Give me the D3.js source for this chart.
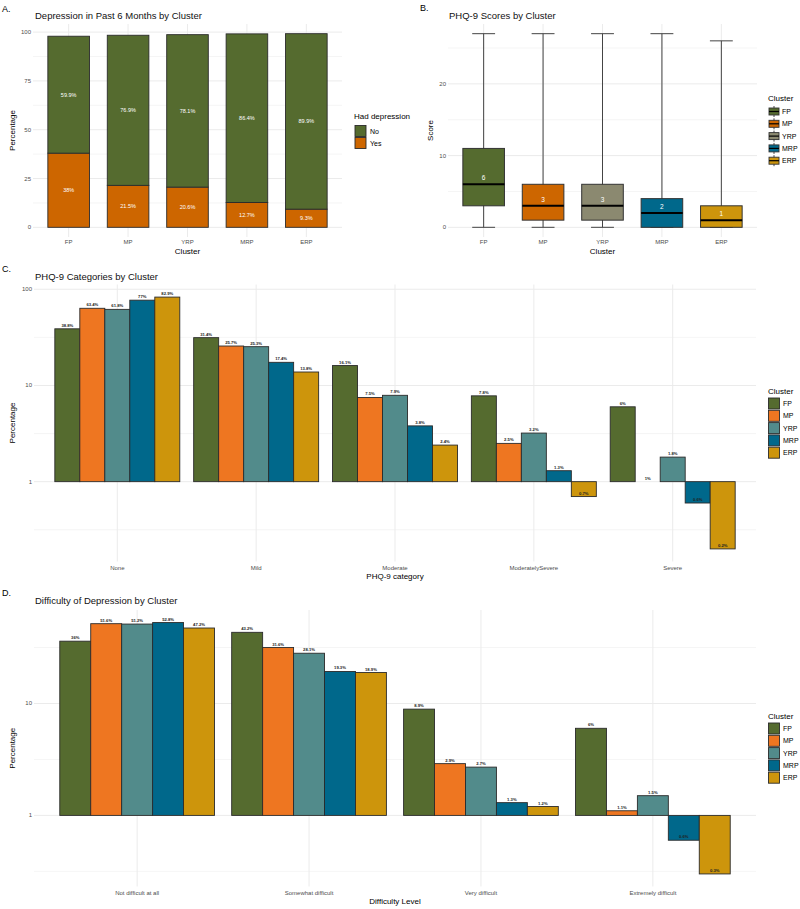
<!DOCTYPE html>
<html>
<head>
<meta charset="utf-8">
<script src="https://cdn.jsdelivr.net/npm/d3@7"></script>
<style>
  body { margin: 0; background: #fff; }
  svg { font-family: "Liberation Sans", Arial, sans-serif; }
</style>
</head>
<body>
<svg id="chart" width="800" height="909"></svg>
<script>
// ---- data ----
const clusters = ["FP", "MP", "YRP", "MRP", "ERP"];

// A. depression in past 6 months (%)
const depNo  = [59.9, 76.9, 78.1, 86.4, 89.9];
const depYes = [38, 21.5, 20.6, 12.7, 9.3];

// B. PHQ-9 score box stats
const boxMin = [0, 0, 0, 0, 0];
const boxQ1  = [3, 1, 1, 0, 0];
const boxMed = [6, 3, 3, 2, 1];
const boxQ3  = [11, 6, 6, 4, 3];
const boxMax = [27, 27, 27, 27, 26];

// C. PHQ-9 categories (%)
const phqCats = ["None", "Mild", "Moderate", "ModeratelySevere", "Severe"];
const phqFP  = [38.8, 31.4, 16.1, 7.8, 6];
const phqMP  = [63.4, 25.7, 7.5, 2.5, 1];
const phqYRP = [61.8, 25.3, 7.9, 3.2, 1.8];
const phqMRP = [77, 17.4, 3.8, 1.3, 0.6];
const phqERP = [82.9, 13.8, 2.4, 0.7, 0.2];

// D. difficulty of depression (%)
const diffCats = ["Not difficult at all", "Somewhat difficult", "Very difficult", "Extremely difficult"];
const diffFP  = [36, 43.2, 8.9, 6];
const diffMP  = [51.6, 31.6, 2.9, 1.1];
const diffYRP = [51.2, 28.1, 2.7, 1.5];
const diffMRP = [52.8, 19.3, 1.3, 0.6];
const diffERP = [47.2, 18.9, 1.2, 0.3];

const svg = d3.select("#chart");
const gridCol = "#ebebeb";
const tickCol = "#4d4d4d";
const outline = "#2b2b2b";

const colA = { No: "#556B2F", Yes: "#CD6600" };
const colB = ["#556B2F", "#CD6600", "#8B8970", "#00688B", "#CD950C"];
const colC = ["#556B2F", "#EE7621", "#528B8B", "#00688B", "#CD950C"];

function tag(x, y, t) {
  svg.append("text").attr("x", x).attr("y", y).attr("font-size", 9).text(t);
}
function title(x, y, t) {
  svg.append("text").attr("x", x).attr("y", y).attr("font-size", 9.5).attr("fill", "#111").text(t);
}
function axisTitleX(cx, y, t) {
  svg.append("text").attr("x", cx).attr("y", y).attr("text-anchor", "middle")
    .attr("font-size", 8).text(t);
}
function axisTitleY(x, cy, t) {
  svg.append("text").attr("transform", "translate(" + x + "," + cy + ") rotate(-90)")
    .attr("text-anchor", "middle").attr("font-size", 8).text(t);
}

// horizontal + vertical grids and y tick labels
function grid(g, x0, x1, y, major, minor, xs, yTop, yBot, fmt) {
  minor.forEach(v => g.append("line").attr("x1", x0).attr("x2", x1)
    .attr("y1", y(v)).attr("y2", y(v)).attr("stroke", gridCol).attr("stroke-width", 0.5));
  major.forEach(v => g.append("line").attr("x1", x0).attr("x2", x1)
    .attr("y1", y(v)).attr("y2", y(v)).attr("stroke", gridCol).attr("stroke-width", 1));
  xs.forEach(v => g.append("line").attr("x1", v).attr("x2", v)
    .attr("y1", yTop).attr("y2", yBot).attr("stroke", gridCol).attr("stroke-width", 1));
  major.forEach(v => g.append("text").attr("x", x0 - 2).attr("y", y(v) + 2)
    .attr("text-anchor", "end").attr("font-size", 6).attr("fill", tickCol).text(fmt(v)));
}

// ================= A =================
(function () {
  const x0 = 33, x1 = 342, yT = 24, yB = 237;
  const x = d3.scaleBand().domain(clusters).range([x0, x1]).paddingInner(0.3).paddingOuter(0.25);
  const y = d3.scaleLinear().domain([-4.96, 104.16]).range([yB, yT]);
  const g = svg.append("g");
  const centers = clusters.map(c => x(c) + x.bandwidth() / 2);
  grid(g, x0, x1, y, [0, 25, 50, 75, 100], [12.5, 37.5, 62.5, 87.5], centers, yT, yB, d => d);

  clusters.forEach((c, i) => {
    const segs = [
      { k: "Yes", lo: 0, hi: depYes[i], v: depYes[i] },
      { k: "No", lo: depYes[i], hi: depYes[i] + depNo[i], v: depNo[i] }
    ];
    segs.forEach(s => {
      g.append("rect").attr("x", x(c)).attr("width", x.bandwidth())
        .attr("y", y(s.hi)).attr("height", y(s.lo) - y(s.hi))
        .attr("fill", colA[s.k]).attr("stroke", outline).attr("stroke-width", 0.9);
      g.append("text").attr("x", x(c) + x.bandwidth() / 2).attr("y", y((s.lo + s.hi) / 2) + 2)
        .attr("text-anchor", "middle").attr("font-size", 5.5).attr("fill", "#fff").text(s.v + "%");
    });
    g.append("text").attr("x", centers[i]).attr("y", 244).attr("text-anchor", "middle")
      .attr("font-size", 6).attr("fill", tickCol).text(c);
  });

  tag(2, 12, "A.");
  title(35, 19, "Depression in Past 6 Months by Cluster");
  axisTitleX((x0 + x1) / 2, 254, "Cluster");
  axisTitleY(15, (yT + yB) / 2, "Percentage");

  // legend
  svg.append("text").attr("x", 354).attr("y", 119).attr("font-size", 8).text("Had depression");
  ["No", "Yes"].forEach((k, i) => {
    svg.append("rect").attr("x", 355).attr("y", 125.5 + i * 12).attr("width", 11).attr("height", 11)
      .attr("fill", colA[k]).attr("stroke", outline).attr("stroke-width", 0.9);
    svg.append("text").attr("x", 370).attr("y", 133.5 + i * 12).attr("font-size", 7).text(k);
  });
})();

// ================= B =================
(function () {
  const x0 = 448, x1 = 757, yT = 24, yB = 237;
  const x = d3.scaleBand().domain(clusters).range([x0, x1]).paddingInner(0.3).paddingOuter(0.25);
  const y = d3.scaleLinear().domain([-1.35, 28.35]).range([yB, yT]);
  const g = svg.append("g");
  const centers = clusters.map(c => x(c) + x.bandwidth() / 2);
  grid(g, x0, x1, y, [0, 10, 20], [5, 15, 25], centers, yT, yB, d => d);

  const bw = x.bandwidth();
  clusters.forEach((c, i) => {
    const cx = centers[i];
    const capW = bw * 0.55;
    g.append("line").attr("x1", cx).attr("x2", cx).attr("y1", y(boxMin[i])).attr("y2", y(boxMax[i]))
      .attr("stroke", "#444").attr("stroke-width", 1);
    [boxMin[i], boxMax[i]].forEach(v => g.append("line").attr("x1", cx - capW / 2).attr("x2", cx + capW / 2)
      .attr("y1", y(v)).attr("y2", y(v)).attr("stroke", "#444").attr("stroke-width", 1));
    g.append("rect").attr("x", x(c)).attr("width", bw).attr("y", y(boxQ3[i]))
      .attr("height", y(boxQ1[i]) - y(boxQ3[i])).attr("fill", colB[i])
      .attr("stroke", "#333").attr("stroke-width", 1);
    g.append("line").attr("x1", x(c)).attr("x2", x(c) + bw).attr("y1", y(boxMed[i])).attr("y2", y(boxMed[i]))
      .attr("stroke", "#000").attr("stroke-width", 2);
    g.append("text").attr("x", cx).attr("y", y(boxMed[i]) - 4).attr("text-anchor", "middle")
      .attr("font-size", 6.5).attr("fill", "#fff").text(boxMed[i]);
    g.append("text").attr("x", cx).attr("y", 244).attr("text-anchor", "middle")
      .attr("font-size", 6).attr("fill", tickCol).text(c);
  });

  tag(420, 11, "B.");
  title(449, 19, "PHQ-9 Scores by Cluster");
  axisTitleX((x0 + x1) / 2, 254, "Cluster");
  axisTitleY(433, (yT + yB) / 2, "Score");

  svg.append("text").attr("x", 768).attr("y", 101).attr("font-size", 8).text("Cluster");
  clusters.forEach((c, i) => {
    const ky = 106 + i * 12.3;
    svg.append("line").attr("x1", 774).attr("x2", 774).attr("y1", ky).attr("y2", ky + 11)
      .attr("stroke", "#444").attr("stroke-width", 1);
    svg.append("rect").attr("x", 769).attr("y", ky + 2).attr("width", 10).attr("height", 7)
      .attr("fill", colB[i]).attr("stroke", "#333").attr("stroke-width", 0.9);
    svg.append("line").attr("x1", 769).attr("x2", 779).attr("y1", ky + 5.5).attr("y2", ky + 5.5)
      .attr("stroke", "#000").attr("stroke-width", 1.2);
    svg.append("text").attr("x", 782).attr("y", ky + 8).attr("font-size", 7).text(c);
  });
})();

// ================= C & D (log grouped bars) =================
function groupedLog(opts) {
  const { cats, series, x0, x1, yT, yB } = opts;
  const all = series.flat();
  const lo = Math.log10(Math.min(d3.min(all), 1));
  const hi = Math.log10(Math.max(d3.max(all), 1));
  const pad = (hi - lo) * 0.05;
  const y = d3.scaleLog().domain([Math.pow(10, lo - pad), Math.pow(10, hi + pad)]).range([yB, yT]);
  const x = d3.scaleBand().domain(cats).range([x0, x1]).paddingInner(0.1).paddingOuter(0.15);
  const xs = d3.scaleBand().domain(clusters).range([0, x.bandwidth()]);
  const g = svg.append("g");

  const major = [0.1, 1, 10, 100].filter(v => v >= y.domain()[0] && v <= y.domain()[1]);
  const minor = [0.1, 1, 10, 100].map(v => v * Math.sqrt(10)).filter(v => v >= y.domain()[0] && v <= y.domain()[1]);
  const centers = cats.map(c => x(c) + x.bandwidth() / 2);
  grid(g, x0, x1, y, major, minor, centers, yT, yB, d => d);

  cats.forEach((c, j) => {
    clusters.forEach((k, i) => {
      const v = series[i][j];
      const bx = x(c) + xs(k);
      const top = Math.min(y(v), y(1)), bot = Math.max(y(v), y(1));
      g.append("rect").attr("x", bx).attr("width", xs.bandwidth())
        .attr("y", top).attr("height", bot - top)
        .attr("fill", colC[i]).attr("stroke", outline).attr("stroke-width", 0.9);
      g.append("text").attr("x", bx + xs.bandwidth() / 2).attr("y", y(v) - 2)
        .attr("text-anchor", "middle").attr("font-size", 4.2).attr("font-weight", "bold")
        .attr("fill", "#222").text(v + "%");
    });
    g.append("text").attr("x", centers[j]).attr("y", yB + 8).attr("text-anchor", "middle")
      .attr("font-size", 6).attr("fill", tickCol).text(c);
  });

  axisTitleX((x0 + x1) / 2, yB + 17.5, opts.xTitle);
  axisTitleY(15, (yT + yB) / 2, "Percentage");

  svg.append("text").attr("x", 768).attr("y", opts.legY).attr("font-size", 8).text("Cluster");
  clusters.forEach((k, i) => {
    const ky = opts.legY + 4 + i * 12.3;
    svg.append("rect").attr("x", 768.5).attr("y", ky).attr("width", 11).attr("height", 11)
      .attr("fill", colC[i]).attr("stroke", outline).attr("stroke-width", 0.9);
    svg.append("text").attr("x", 783).attr("y", ky + 8).attr("font-size", 7).text(k);
  });
}

tag(2, 272, "C.");
title(35, 280, "PHQ-9 Categories by Cluster");
groupedLog({
  cats: phqCats, series: [phqFP, phqMP, phqYRP, phqMRP, phqERP],
  x0: 34, x1: 756, yT: 284.5, yB: 561.5, xTitle: "PHQ-9 category", legY: 394
});

tag(2, 596, "D.");
title(35, 604, "Difficulty of Depression by Cluster");
groupedLog({
  cats: diffCats, series: [diffFP, diffMP, diffYRP, diffMRP, diffERP],
  x0: 34, x1: 756, yT: 610, yB: 886.5, xTitle: "Difficulty Level", legY: 719
});
</script>
</body>
</html>
